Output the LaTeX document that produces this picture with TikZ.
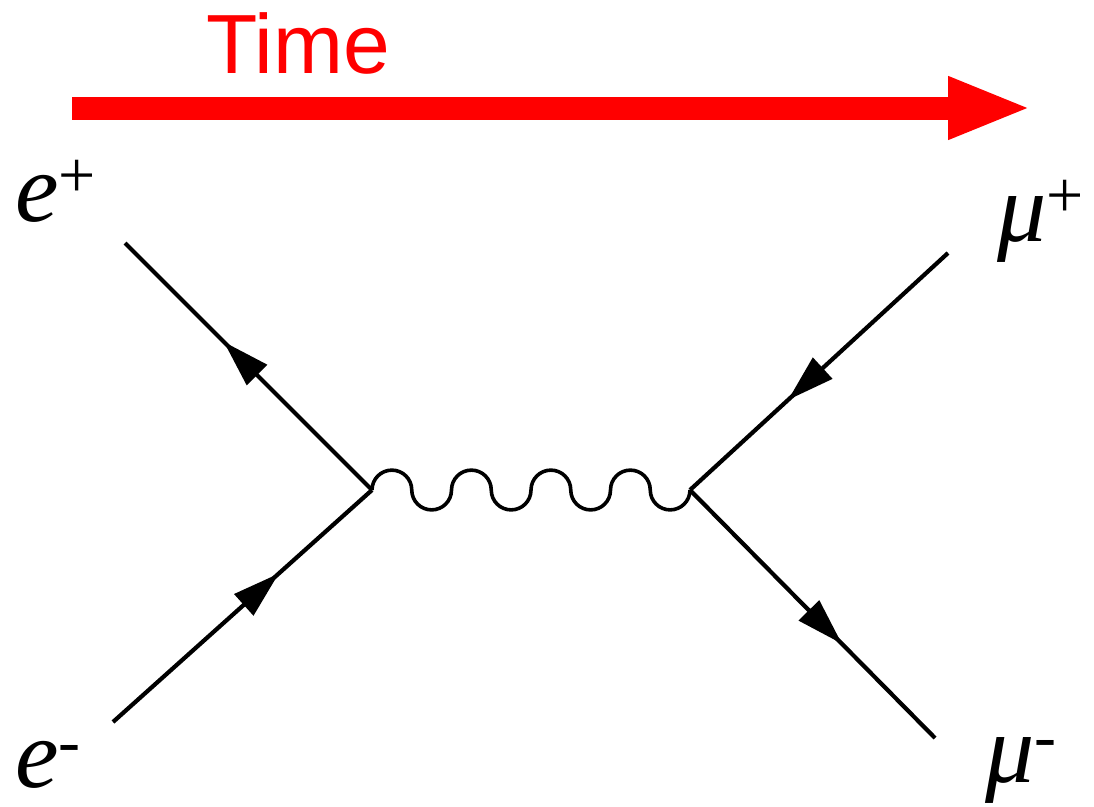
\documentclass[tikz,border=0pt]{standalone}
\usepackage{fontspec}
\setmainfont{Liberation Serif}
\newfontfamily\timefont{Liberation Sans}
\usetikzlibrary{arrows.meta,decorations.markings}
\definecolor{timered}{RGB}{255,0,0}
\newcommand{\chg}[1]{\raisebox{24pt}{\fontsize{66}{66}\selectfont\upshape #1}}

\begin{document}
\begin{tikzpicture}[
    x=1pt, y=-1pt,
    fermion/.style={line width=4.2pt, postaction={decorate},
        decoration={markings, mark=at position #1 with
            {\arrow{Triangle[length=47pt,width=28pt]}}}},
    fermion/.default=0.62,
    photon/.style={line width=3.6pt},
    particle/.style={anchor=base west, inner sep=0pt,
        font=\fontsize{98}{98}\selectfont\itshape},
    timearrow/.style={draw=timered, line width=23pt,
        -{Triangle[length=84pt,width=57pt]}},
    timelabel/.style={anchor=base west, inner sep=0pt, text=timered,
        font=\timefont\fontsize{84}{84}\selectfont}
]
\useasboundingbox (0,0) rectangle (1094,806);

% time axis
\coordinate (tstart) at (72,108);
\coordinate (tend) at (1032,108);
\draw[timearrow] (tstart) -- (tend);
\node[timelabel] (time) at (206,73) {Time};

% vertices and external legs
\coordinate (vl) at (372,490);
\coordinate (vr) at (690,490);
\coordinate (ep) at (125,243);
\coordinate (em) at (113,722);
\coordinate (mp) at (948,253);
\coordinate (mm) at (935,738);

\node[particle] (eplus) at (15,221) {e\chg{+}};
\node[particle] (eminus) at (15,787) {e\chg{-}};
\node[particle] (muplus) at (997,241) {μ\chg{+}};
\node[particle] (muminus) at (985,782) {μ\chg{-}};

\draw[fermion=0.6] (vl) -- (ep);
\draw[fermion=0.64] (em) -- (vl);
\draw[fermion] (mp) -- (vr);
\draw[fermion] (vr) -- (mm);

% photon
\draw[photon] (vl) foreach \i in {1,...,4} {
    arc[start angle=180, end angle=360, radius=19.875]
    arc[start angle=180, end angle=0, radius=19.875]};
\end{tikzpicture}
\end{document}
